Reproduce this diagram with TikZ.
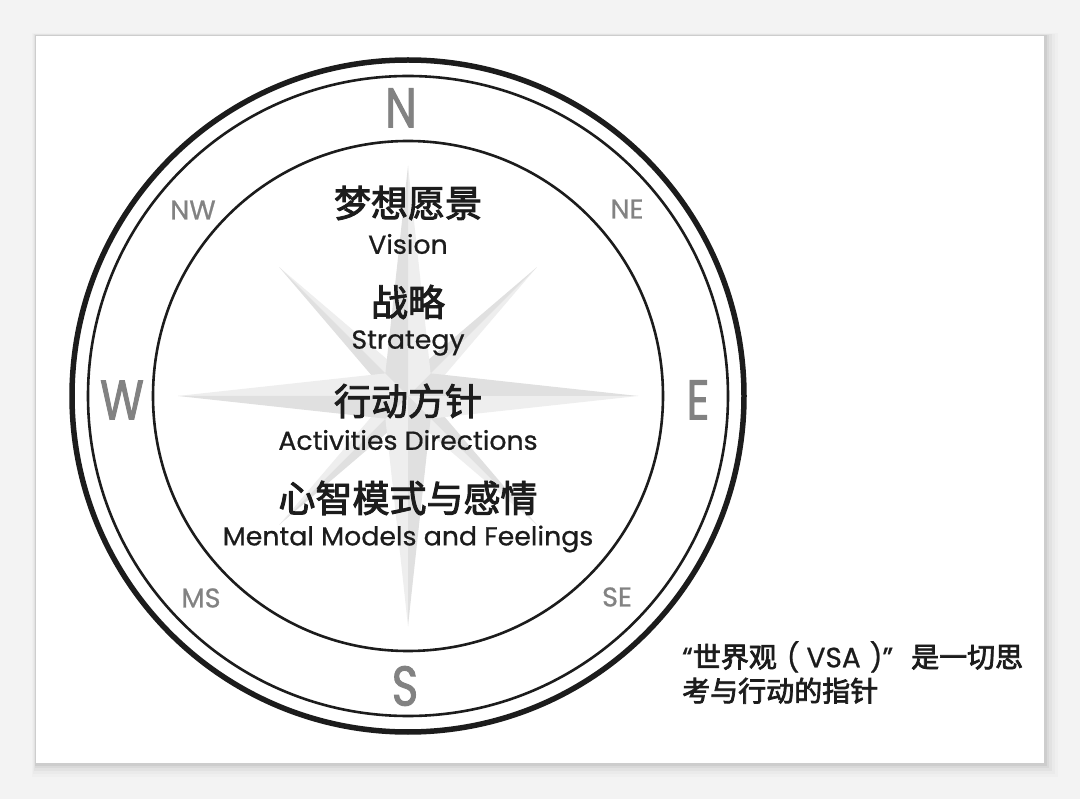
\documentclass[tikz,border=0pt]{standalone}
\usepackage{fontspec}
\usetikzlibrary{calc}
\setmainfont{Poppins}
\newfontfamily\bigsans{Poppins}[FakeStretch=0.8, FakeBold=1.6]
\newfontfamily\smallsans{Poppins}[FakeBold=0.8]
\newfontfamily\ensans{Poppins}[FakeStretch=1.03, FakeBold=0.7]
\newfontfamily\cjk{Noto Sans CJK SC}[FakeBold=2.6]
\definecolor{bgout}{HTML}{F3F3F3}
\definecolor{lettergray}{HTML}{828282}
\definecolor{inkc}{HTML}{1C1C1C}
\definecolor{starlight}{HTML}{EEEEEE}
\definecolor{stardark}{HTML}{E0E0E0}
\tikzset{
  ring/.style={draw=inkc, fill=none},
  compass/.style={text=lettergray, font=\bigsans\fontsize{56}{60}\selectfont, inner sep=0pt},
  subdir/.style={text=lettergray, font=\smallsans\fontsize{27}{30}\selectfont, inner sep=0pt},
  cjktitle/.style={text=inkc, font=\cjk\fontsize{37}{40}\selectfont, inner sep=0pt},
  entitle/.style={text=inkc, font=\ensans\fontsize{26}{28}\selectfont, inner sep=0pt},
  caption/.style={text=inkc, font=\cjk\fontsize{28}{34}\selectfont, inner sep=0pt, align=left, anchor=north west}
}
\begin{document}
\begin{tikzpicture}[x=1pt,y=-1pt]
\useasboundingbox (0,0) rectangle (1080,799);
\fill[bgout] (0,0) rectangle (1080,799);
% soft shadow of the card
\foreach \d/\o in {14/0.015,11/0.02,8/0.03,5/0.04,3/0.05}{
  \fill[black,opacity=\o] (36-\d*0.3,36-\d*0.2) rectangle (1044+\d,763+\d);
}
\fill[white] (36,36) rectangle (1044,763);
\coordinate (C) at (408,396);
% compass star: diagonal points
\foreach \a in {45,135,225,315}{
  \fill[starlight] (C) -- ($(C)+(\a:182)$) -- ($(C)+(\a+24:30)$) -- cycle;
  \fill[stardark] (C) -- ($(C)+(\a:182)$) -- ($(C)+(\a-24:30)$) -- cycle;
}
% compass star: main points
\foreach \a in {0,90,180,270}{
  \fill[starlight] (C) -- ($(C)+(\a:230)$) -- ($(C)+(\a+45:32)$) -- cycle;
  \fill[stardark] (C) -- ($(C)+(\a:230)$) -- ($(C)+(\a-45:32)$) -- cycle;
}
% rings
\draw[ring, line width=5.5pt] (C) circle[radius=336];
\draw[ring, line width=2.6pt] (C) circle[radius=320];
\draw[ring, line width=2.6pt] (C) circle[radius=255];
% compass letters
\node[compass] (n) at (401,108) {N};
\node[compass] (s) at (405,686) {S};
\node[compass] (w) at (122,400) {W};
\node[compass] (e) at (698,400) {E};
\node[subdir] (nw) at (193,210) {NW};
\node[subdir] (ne) at (627,209) {NE};
\node[subdir] (ms) at (201,598) {MS};
\node[subdir] (se) at (617,597) {SE};
% central texts
\node[cjktitle] (t1) at (408,203) {梦想愿景};
\node[entitle] (e1) at (408,244) {Vision};
\node[cjktitle] (t2) at (408,302) {战略};
\node[entitle] (e2) at (408,343) {Strategy};
\node[cjktitle] (t3) at (408,401) {行动方针};
\node[entitle] (e3) at (408,440) {Activities Directions};
\node[cjktitle] (t4) at (408,498) {心智模式与感情};
\node[entitle] (e4) at (408,539) {Mental Models and Feelings};
% caption
\node[caption] (cap) at (682,641) {{\smallsans“}世界观{\smallsans\hspace{10pt}(\hspace{7pt}VSA\hspace{9pt})”}\hspace{18pt}是一切思\\考与行动的指针};
\end{tikzpicture}
\end{document}
